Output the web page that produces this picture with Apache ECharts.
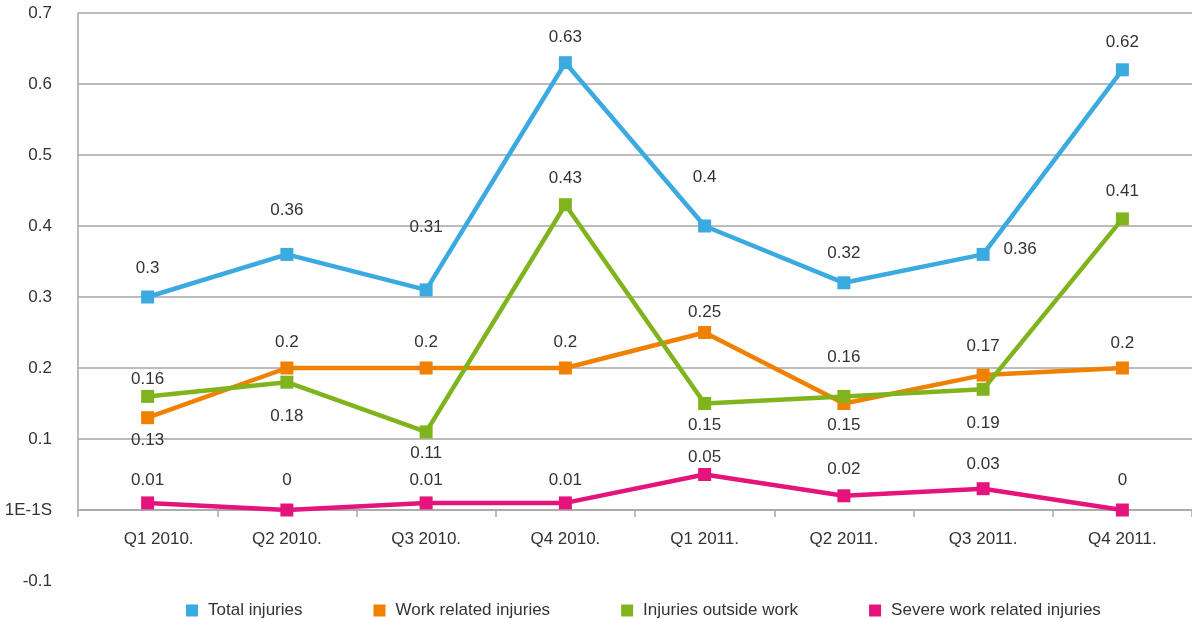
<!DOCTYPE html>
<html style="height: 100%">
<head>
<meta charset="utf-8">
<script src="https://cdn.jsdelivr.net/npm/echarts@6/dist/echarts.min.js"></script>
</head>
<body style="height: 100%; margin: 0">
<div id="container" style="width: 1192px; height: 619px"></div>
<script type="text/javascript">
var quarters = ['Q1 2010.', 'Q2 2010.', 'Q3 2010.', 'Q4 2010.', 'Q1 2011.', 'Q2 2011.', 'Q3 2011.', 'Q4 2011.'];
var totalInjuries = [0.3, 0.36, 0.31, 0.63, 0.4, 0.32, 0.36, 0.62];
var workRelated = [0.13, 0.2, 0.2, 0.2, 0.25, 0.15, 0.19, 0.2];
var outsideWork = [0.16, 0.18, 0.11, 0.43, 0.15, 0.16, 0.17, 0.41];
var severeWork = [0.01, 0, 0.01, 0.01, 0.05, 0.02, 0.03, 0];

// label shifts (px) relative to each point, as placed in the original
var totalLabelDy = [-29, -44, -63, -25, -49, -29, -5, -27];
var workLabelDy = [23, -26, -26, -26, -20, 22, 48, -25];
var outsideLabelDy = [-17, 34, 21, -26, 22, -39, -43, -28];
var severeLabelDy = [-23, -30, -23, -23, -17, -26, -24, -30];

var dom = document.getElementById('container');
var myChart = echarts.init(dom);
var txt = '#333';
var gridCol = '#a6a6a6';
var font = 'Liberation Sans, Arial, sans-serif';
var fs = 17;

function build(name, values, dy, color, dxAt) {
    return {
        name: name,
        type: 'line',
        xAxisIndex: 0,
        yAxisIndex: 0,
        clip: false,
        symbol: 'rect',
        symbolSize: 13,
        lineStyle: { width: 4.5, color: color },
        itemStyle: { color: color },
        data: values.map(function (v, i) {
            var dx = (dxAt && dxAt[i]) || 0;
            return {
                value: v,
                label: { show: true, position: 'inside', offset: [dx, dy[i]] }
            };
        }),
        label: {
            fontSize: fs,
            color: txt,
            fontFamily: font,
            formatter: function (p) { return String(p.value); }
        }
    };
}

// first category label sits a little right of its point in the original
var xCats = quarters.map(function (q, i) {
    return i === 0 ? { value: q, textStyle: { padding: [0, 0, 0, 22] } } : q;
});

var option = {
    animation: false,
    textStyle: { fontFamily: font },
    grid: [
        { left: 78, right: -3, top: 13, bottom: 109 },
        { left: 78, right: -3, top: 13, bottom: 38 }
    ],
    legend: {
        left: 181,
        top: 597,
        icon: 'rect',
        itemWidth: 12,
        itemHeight: 12,
        itemGap: 71,
        textStyle: { fontSize: fs, color: txt, fontFamily: font, padding: [0, 0, 0, 5] },
        data: ['Total injuries', 'Work related injuries', 'Injuries outside work', 'Severe work related injuries']
    },
    xAxis: [
        {
            type: 'category',
            gridIndex: 0,
            data: xCats,
            boundaryGap: true,
            axisLine: { lineStyle: { color: gridCol, width: 1.5 } },
            axisTick: { show: true, length: 7, lineStyle: { color: gridCol, width: 1.5 } },
            axisLabel: { color: txt, fontSize: fs, margin: 21, fontFamily: font }
        },
        {
            type: 'category',
            gridIndex: 1,
            data: quarters,
            show: false
        }
    ],
    yAxis: [
        {
            type: 'value',
            gridIndex: 0,
            min: 0,
            max: 0.7,
            interval: 0.1,
            axisLine: { show: true, lineStyle: { color: gridCol, width: 1.5 } },
            axisTick: { show: false },
            splitLine: { show: true, lineStyle: { color: gridCol, width: 1.5 } },
            axisLabel: {
                color: txt,
                fontSize: fs,
                margin: 26,
                fontFamily: font,
                formatter: function (v) {
                    if (Math.abs(v) < 1e-9) return '1E-1S';
                    return String(Math.round(v * 10) / 10);
                }
            }
        },
        {
            type: 'value',
            gridIndex: 1,
            min: -0.1,
            max: 0.7,
            interval: 0.1,
            axisLine: { show: false },
            axisTick: { show: false },
            splitLine: { show: false },
            axisLabel: {
                color: txt,
                fontSize: fs,
                margin: 26,
                fontFamily: font,
                formatter: function (v) {
                    return v < -0.05 ? String(Math.round(v * 10) / 10) : '';
                }
            }
        }
    ],
    series: [
        build('Total injuries', totalInjuries, totalLabelDy, '#3aaae0', [0, 0, 0, 0, 0, 0, 37, 0]),
        build('Work related injuries', workRelated, workLabelDy, '#f08000'),
        build('Injuries outside work', outsideWork, outsideLabelDy, '#80b41e'),
        build('Severe work related injuries', severeWork, severeLabelDy, '#e4147c')
    ]
};

myChart.setOption(option, true);
</script>
</body>
</html>
